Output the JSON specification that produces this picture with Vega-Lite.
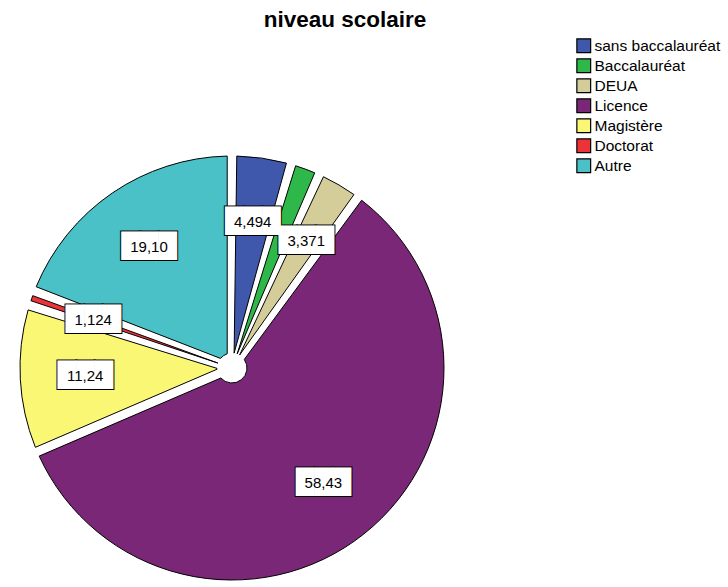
{
  "$schema": "https://vega.github.io/schema/vega-lite/v6.json",
  "autosize": "none",
  "width": 464,
  "height": 416,
  "padding": {"left": 0, "top": 160, "right": 264, "bottom": 11},
  "background": "white",
  "title": {"text": "niveau scolaire", "font": "Liberation Sans", "fontSize": 22.5, "fontWeight": "bold", "color": "black", "anchor": "middle", "dx": 113, "offset": 7},
  "data": {"values": [
    {"niveau": "sans baccalauréat", "ordre": 1, "pct": 4.494, "label": "4,494"},
    {"niveau": "Baccalauréat", "ordre": 2, "pct": 2.247, "label": ""},
    {"niveau": "DEUA", "ordre": 3, "pct": 3.371, "label": "3,371"},
    {"niveau": "Licence", "ordre": 4, "pct": 58.43, "label": "58,43"},
    {"niveau": "Magistère", "ordre": 5, "pct": 11.24, "label": "11,24"},
    {"niveau": "Doctorat", "ordre": 6, "pct": 1.124, "label": "1,124"},
    {"niveau": "Autre", "ordre": 7, "pct": 19.10, "label": "19,10"}
  ]},
  "encoding": {
    "theta": {"field": "pct", "type": "quantitative", "stack": true},
    "order": {"field": "ordre", "type": "quantitative"}
  },
  "layer": [
    {
      "mark": {"type": "arc", "outerRadius": 212, "innerRadius": 15, "padAngle": 0.045, "stroke": "black", "strokeWidth": 1},
      "encoding": {
        "color": {"field": "niveau", "type": "nominal",
          "scale": {"domain": ["sans baccalauréat", "Baccalauréat", "DEUA", "Licence", "Magistère", "Doctorat", "Autre"],
                    "range": ["#3F58AC", "#2EB84A", "#D4CD9A", "#7B2778", "#FAF774", "#EE3338", "#4AC1C6"]},
          "legend": {"title": null, "orient": "none", "legendX": 576, "legendY": -122, "symbolType": "square", "symbolSize": 190, "symbolStrokeColor": "black", "symbolStrokeWidth": 1.2, "labelFont": "Liberation Sans", "labelFontSize": 15.5, "labelColor": "black", "rowPadding": 0, "labelOffset": 3, "labelLimit": 200}
        }
      }
    },
    {
      "mark": {"type": "text", "radius": 147, "font": "DejaVu Sans", "fontSize": 24, "color": "black", "stroke": "black", "strokeWidth": 2, "baseline": "middle", "align": "center"},
      "encoding": {"text": {"condition": {"test": "datum.label == ''", "value": ""}, "value": "███"}}
    },
    {
      "mark": {"type": "text", "radius": 147, "font": "DejaVu Sans", "fontSize": 24, "color": "white", "baseline": "middle", "align": "center"},
      "encoding": {"text": {"condition": {"test": "datum.label == ''", "value": ""}, "value": "███"}}
    },
    {
      "mark": {"type": "text", "radius": 147, "font": "Liberation Sans", "fontSize": 15, "color": "black", "baseline": "middle", "align": "center"},
      "encoding": {"text": {"field": "label"}}
    }
  ]
}
